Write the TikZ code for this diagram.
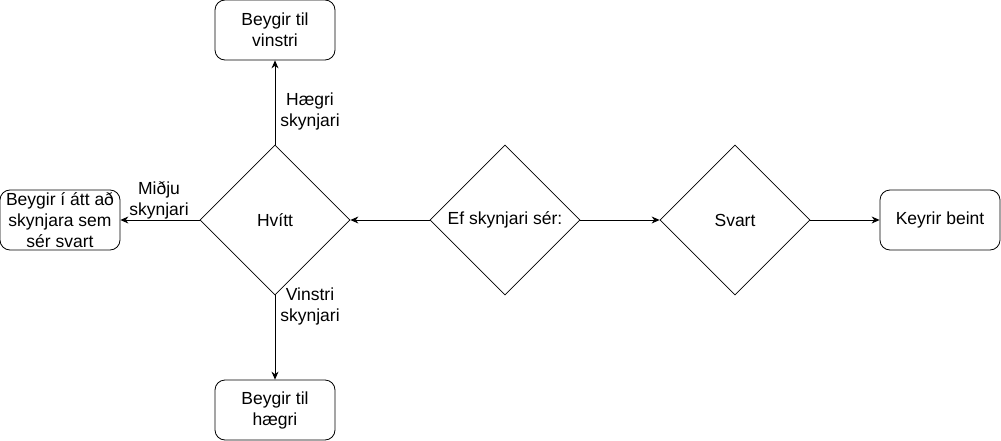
\documentclass[tikz,border=0pt]{standalone}
\usepackage{fontspec}
\setmainfont{Liberation Sans}
\usetikzlibrary{shapes.geometric,arrows.meta}
\begin{document}
\begin{tikzpicture}[x=1pt,y=-1pt,
  every node/.style={font=\fontsize{17.5}{21}\selectfont},
  box/.style={draw,rounded corners=10pt,minimum width=120pt,minimum height=60pt,align=center,inner sep=1pt,line width=0.8pt},
  dia/.style={draw,diamond,minimum width=150pt,minimum height=150pt,inner sep=0pt,align=center,line width=0.8pt},
  conn/.style={-{Stealth[length=8pt,width=7pt]},line width=0.8pt},
  lbl/.style={align=center,inner sep=0pt}]
\useasboundingbox (0,0) rectangle (1001,441);
\node[box] (top) at (275,30) {Beygir til\\vinstri};
\node[box] (bot) at (275,410) {Beygir til\\hægri};
\node[box] (left) at (60,220) {Beygir í átt að\\skynjara sem\\sér svart};
\node[dia] (hv) at (275,220) {Hvítt};
\node[dia] (ef) at (505,220) {Ef skynjari sér:};
\node[dia] (sv) at (735,220) {Svart};
\node[box] (kb) at (940,220) {Keyrir beint};
\draw[conn] (ef.west) -- (hv.east);
\draw[conn] (ef.east) -- (sv.west);
\draw[conn] (sv.east) -- (kb.west);
\draw[conn] (hv.north) -- (top.south);
\draw[conn] (hv.south) -- (bot.north);
\draw[conn] (hv.west) -- (left.east);
\node[lbl] (l1) at (310,111) {Hægri\\skynjari};
\node[lbl] (l2) at (310,306) {Vinstri\\skynjari};
\node[lbl] (l3) at (159,200) {Miðju\\skynjari};
\end{tikzpicture}
\end{document}
